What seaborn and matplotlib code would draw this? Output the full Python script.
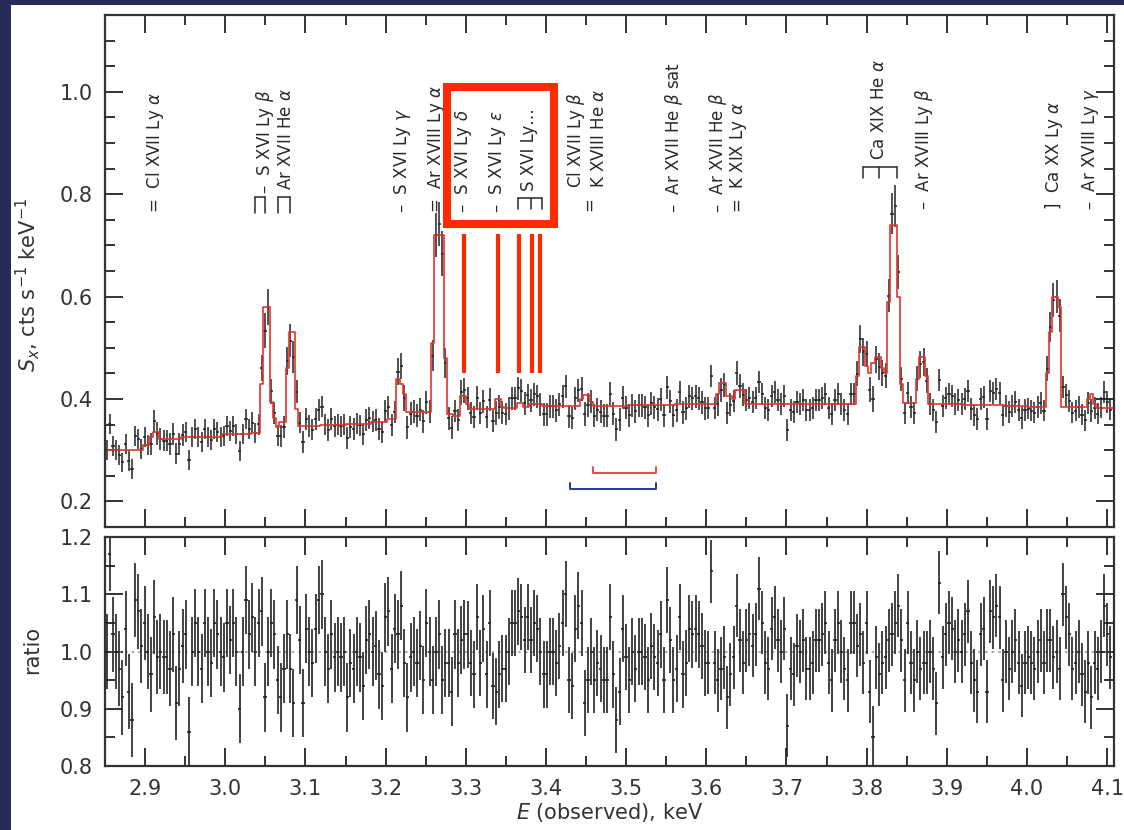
import numpy as np
import matplotlib
matplotlib.use("Agg")
import matplotlib.pyplot as plt
import seaborn as sns
from matplotlib.patches import Rectangle
from matplotlib.ticker import MultipleLocator, FormatStrFormatter

# ---------------------------------------------------------------- data
E_LO = 2.85          # first bin edge, keV
BIN_W = 0.00395      # bin width, keV

# data / model ratio per bin
ratio_values = [
    1.00, 1.17, 1.03, 1.00, 0.97, 0.92, 1.04, 0.93, 0.88, 1.09,
    1.07, 1.01, 1.05, 1.00, 0.96, 1.06, 0.99, 1.00, 0.99, 0.99,
    0.97, 1.03, 0.91, 0.97, 1.01, 1.03, 0.86, 1.00, 1.05, 1.00,
    0.97, 1.05, 1.00, 0.98, 1.05, 1.03, 1.00, 0.99, 1.05, 1.02,
    1.05, 1.00, 0.90, 1.00, 1.09, 1.03, 1.06, 1.00, 1.05, 1.07,
    0.92, 1.00, 1.05, 1.03, 0.95, 0.92, 0.97, 1.03, 0.97, 0.91,
    1.09, 1.02, 0.91, 1.04, 1.00, 0.98, 1.04, 1.09, 1.10, 1.00,
    0.97, 1.03, 0.99, 1.00, 0.99, 1.00, 0.92, 0.98, 0.97, 1.00,
    0.99, 0.94, 1.02, 1.03, 1.00, 1.01, 0.96, 0.94, 1.06, 1.07,
    0.97, 1.04, 1.03, 1.08, 0.98, 0.92, 0.99, 1.00, 0.98, 1.01,
    0.95, 1.05, 1.00, 0.95, 1.00, 1.03, 0.95, 0.98, 0.98, 0.93,
    1.03, 0.98, 1.02, 1.03, 1.03, 0.98, 0.96, 1.06, 0.98, 1.04,
    0.96, 1.05, 0.94, 0.93, 0.96, 0.97, 0.97, 1.00, 1.05, 1.05,
    1.07, 1.06, 1.02, 1.06, 1.02, 1.05, 1.04, 1.00, 0.96, 0.96, 1.00,
    1.00, 0.98, 1.01, 1.05, 1.10, 0.95, 0.94, 1.04, 1.08, 1.05,
    0.91, 0.95, 1.00, 0.95, 0.98, 0.97, 0.95, 0.95, 1.06, 0.96,
    0.88, 0.93, 1.04, 0.99, 0.95, 1.00, 0.97, 1.00, 1.00, 0.99,
    0.95, 1.01, 0.99, 0.98, 1.03, 0.95, 1.09, 1.02, 0.95, 0.97,
    1.06, 0.96, 0.98, 1.04, 1.03, 1.04, 1.03, 1.01, 0.98, 0.98,
    1.14, 0.98, 0.95, 0.97, 0.99, 0.92, 0.96, 0.99, 1.08, 1.02,
    0.98, 1.02, 1.03, 1.01, 1.03, 1.11, 1.05, 0.98, 0.97, 1.04,
    1.06, 1.02, 1.00, 1.04, 0.87, 0.97, 0.96, 1.01, 1.00, 1.02,
    0.97, 0.97, 0.98, 1.02, 1.02, 1.03, 1.05, 0.98, 0.95, 1.02,
    1.05, 1.00, 0.97, 0.95, 1.05, 1.05, 1.01, 1.03, 0.98, 1.05,
    0.93, 0.85, 0.99, 0.96, 0.98, 0.99, 1.02, 1.03, 1.05, 1.08,
    1.02, 0.95, 1.05, 0.98, 0.95, 1.00, 0.97, 0.98, 0.98, 1.00,
    0.97, 0.91, 1.12, 0.99, 1.03, 1.05, 1.04, 1.00, 1.02, 1.00,
    1.03, 1.07, 0.98, 0.95, 0.93, 1.03, 1.04, 0.93, 1.07, 1.06,
    1.08, 1.06, 0.95, 1.00, 0.97, 1.00, 1.02, 0.98, 0.94, 0.98,
    0.99, 0.98, 0.97, 1.00, 1.02, 0.98, 1.02, 1.02, 0.99, 1.00,
    0.97, 1.10, 1.06, 1.03, 0.97, 0.98, 1.00, 0.96, 0.93, 0.98,
    0.92, 0.98, 0.97, 1.00, 1.08, 1.03, 0.99, 1.00,
]

# ratio 1-sigma half widths, by energy range
err_start = [2.85, 2.95, 3.30, 3.60]
err_half = [0.065, 0.060, 0.058, 0.055]

# best-fit model: piecewise-constant levels (start energy, level)
model_start = [
    2.850, 2.896, 2.906, 2.910, 2.918, 2.946, 2.995, 3.030,
    3.044, 3.048, 3.057, 3.061, 3.065, 3.069, 3.076, 3.080, 3.087, 3.091,
    3.120, 3.150, 3.180, 3.200, 3.212, 3.219, 3.223, 3.227,
    3.255, 3.259, 3.272, 3.276, 3.285,
    3.292, 3.300, 3.306, 3.337, 3.343, 3.347, 3.364, 3.370, 3.380, 3.395,
    3.443, 3.447, 3.455, 3.460, 3.500, 3.560, 3.614, 3.618, 3.624, 3.632,
    3.638, 3.646, 3.700, 3.750,
    3.786, 3.790, 3.797, 3.802, 3.807, 3.811, 3.819, 3.823, 3.826, 3.830,
    3.839, 3.843, 3.847,
    3.862, 3.865, 3.872, 3.876, 3.920, 3.970, 4.000,
    4.024, 4.027, 4.031, 4.039, 4.044, 4.074, 4.077, 4.083, 4.087,
]
model_level = [
    0.300, 0.310, 0.325, 0.336, 0.322, 0.326, 0.331, 0.334,
    0.430, 0.580, 0.395, 0.362, 0.346, 0.356, 0.460, 0.530, 0.380, 0.347,
    0.350, 0.352, 0.356, 0.360, 0.440, 0.430, 0.410, 0.375,
    0.510, 0.720, 0.480, 0.370, 0.366,
    0.405, 0.390, 0.380, 0.400, 0.385, 0.382, 0.393, 0.384, 0.390, 0.386,
    0.400, 0.408, 0.395, 0.387, 0.388, 0.390, 0.410, 0.431, 0.405, 0.400,
    0.417, 0.390, 0.390, 0.391,
    0.445, 0.502, 0.465, 0.450, 0.470, 0.482, 0.460, 0.450, 0.590, 0.740,
    0.600, 0.430, 0.392,
    0.440, 0.482, 0.445, 0.390, 0.388, 0.386, 0.385,
    0.450, 0.530, 0.600, 0.580, 0.385, 0.400, 0.410, 0.390, 0.383,
]

# line identifications (energy, label, baseline)
id_energy = [2.9125, 3.0490, 3.0760, 3.2213, 3.2638, 3.2975, 3.340, 3.3788,
             3.4375, 3.466, 3.454, 3.560, 3.615, 3.640, 3.816, 3.871, 4.034, 4.0788]
id_text = [
    "=  Cl XVII Ly $\\alpha$",
    "–  S XVI Ly $\\beta$",
    "Ar XVII He $\\alpha$",
    "–  S XVI Ly $\\gamma$",
    "=  Ar XVIII Ly $\\alpha$",
    "–  S XVI Ly $\\delta$",
    "–  S XVI Ly $\\epsilon$",
    "S XVI Ly…",
    "Cl XVII Ly $\\beta$",
    "K XVIII He $\\alpha$",
    "=",
    "–  Ar XVII He $\\beta$ sat",
    "–  Ar XVII He $\\beta$",
    "=  K XIX Ly $\\alpha$",
    "Ca XIX He $\\alpha$",
    "–  Ar XVIII Ly $\\beta$",
    "]  Ca XX Ly $\\alpha$",
    "–  Ar XVIII Ly $\\gamma$",
]
id_base = [0.763, 0.800, 0.808, 0.763, 0.763, 0.763, 0.763, 0.806,
           0.812, 0.812, 0.768, 0.763, 0.763, 0.763, 0.867, 0.769, 0.769, 0.770]

# blended-line brackets: leg energies, top, bottom
bracket_legs = [[3.037, 3.050], [3.066, 3.081], [3.365, 3.381, 3.395], [3.796, 3.816, 3.8375]]
bracket_top = [0.7945, 0.7945, 0.792, 0.853]
bracket_bot = [0.763, 0.763, 0.771, 0.832]

# highlighted S XVI Lyman series
lyman_energy = [3.2979, 3.3396, 3.3659, 3.3821, 3.3921]
lyman_span = [0.451, 0.722]
box_e = [3.2763, 3.410]
box_v = [0.742, 1.009]

# resolution bars
res_red_e = [3.459, 3.5375]
res_red_v = 0.2555
res_blue_e = [3.430, 3.5375]
res_blue_v = 0.224

# ---------------------------------------------------------------- derived arrays
ratio = np.array(ratio_values)
n_bins = len(ratio)
edges = E_LO + BIN_W * np.arange(n_bins + 1)
energy = 0.5 * (edges[:-1] + edges[1:])
model = np.array(model_level)[np.searchsorted(model_start, energy, side="right") - 1]
ratio_err = np.array(err_half)[np.searchsorted(err_start, energy, side="right") - 1]
flux = ratio * model
flux_err = ratio_err * model

# ---------------------------------------------------------------- style
sns.set_style("ticks", {"xtick.direction": "in", "ytick.direction": "in"})
plt.rcParams["font.family"] = ["DejaVu Sans"]
plt.rcParams["mathtext.fontset"] = "dejavusans"

INK = "#333333"
W, H = 1124, 830
fig = plt.figure(figsize=(W / 100, H / 100), dpi=100)
fig.patch.set_facecolor("#282a57")
fig.add_artist(Rectangle((11 / W, 0), 1 - 11 / W, 1 - 5 / H, transform=fig.transFigure,
                         facecolor="white", edgecolor="none", zorder=0))

left, right = 105 / W, 1114 / W
ax1 = fig.add_axes([left, (H - 527) / H, right - left, (527 - 15) / H])
ax2 = fig.add_axes([left, (H - 766) / H, right - left, (766 - 537) / H])

for ax in (ax1, ax2):
    ax.set_facecolor("white")
    ax.set_xlim(2.85, 4.1085)
    ax.xaxis.set_major_locator(MultipleLocator(0.1))
    ax.xaxis.set_minor_locator(MultipleLocator(0.05))
    ax.yaxis.set_major_formatter(FormatStrFormatter("%.1f"))
    ax.xaxis.set_major_formatter(FormatStrFormatter("%.1f"))
    ax.tick_params(which="both", direction="in", top=True, right=True,
                   color=INK, labelcolor=INK, labelsize=15, width=1.4)
    ax.tick_params(which="major", length=13, pad=9)
    ax.tick_params(which="minor", length=7)
    for sp in ax.spines.values():
        sp.set_color(INK)
        sp.set_linewidth(1.6)

# ---- spectrum panel
ax1.set_ylim(0.15, 1.15)
ax1.yaxis.set_major_locator(MultipleLocator(0.2))
ax1.yaxis.set_minor_locator(MultipleLocator(0.05))
ax1.tick_params(labelbottom=False)

ax1.errorbar(energy, flux, yerr=flux_err, xerr=BIN_W / 2, fmt="none",
             ecolor="#222222", elinewidth=1.1, capsize=0, zorder=3)
sns.lineplot(x=energy, y=model, ax=ax1, drawstyle="steps-mid", color="#e3342f",
             linewidth=1.2, estimator=None, sort=False, legend=False, zorder=4)

ax1.set_ylabel("$S_x$, cts s$^{-1}$ keV$^{-1}$", fontsize=15, color=INK)
ax1.yaxis.set_label_coords(-0.0624, 0.473)

for e, t, b in zip(id_energy, id_text, id_base):
    ax1.text(e, b, t, rotation=90, ha="center", va="bottom", fontsize=12,
             color="#2a2a2a", zorder=5)

for legs, top, bot in zip(bracket_legs, bracket_top, bracket_bot):
    ax1.plot([min(legs), max(legs)], [top, top], color="#2a2a2a", lw=1.1, zorder=5)
    for e in legs:
        ax1.plot([e, e], [top, bot], color="#2a2a2a", lw=1.1, zorder=5)

ax1.vlines(lyman_energy, lyman_span[0], lyman_span[1], color="#ff2a00", lw=3.0, zorder=6)
ax1.add_patch(Rectangle((box_e[0], box_v[0]), box_e[1] - box_e[0], box_v[1] - box_v[0],
                        fill=False, edgecolor="#ff2a00", lw=5.8, zorder=7, clip_on=False))

tick_h = 0.012
ax1.plot([res_red_e[0], res_red_e[0], res_red_e[1], res_red_e[1]],
         [res_red_v + tick_h, res_red_v, res_red_v, res_red_v + tick_h],
         color="#e84a4a", lw=1.4, zorder=5)
ax1.plot([res_blue_e[0], res_blue_e[0], res_blue_e[1], res_blue_e[1]],
         [res_blue_v + tick_h, res_blue_v, res_blue_v, res_blue_v + tick_h],
         color="#2a3a9a", lw=1.4, zorder=5)

# ---- ratio panel
ax2.set_ylim(0.8, 1.2)
ax2.yaxis.set_major_locator(MultipleLocator(0.1))
ax2.yaxis.set_minor_locator(MultipleLocator(0.05))
ax2.axhline(1.0, color="#9a9a9a", lw=1.2, ls=(0, (1.5, 2.5)), zorder=2)
ax2.errorbar(energy, ratio, yerr=ratio_err, xerr=BIN_W / 2, fmt="none",
             ecolor="#222222", elinewidth=1.2, capsize=0, zorder=3)
ax2.set_ylabel("ratio", fontsize=15, color=INK)
ax2.yaxis.set_label_coords(-0.0624, 0.507)
ax2.set_xlabel("$E$ (observed), keV", fontsize=15, color=INK, labelpad=2)

fig.savefig("out.png", dpi=100, facecolor=fig.get_facecolor())
